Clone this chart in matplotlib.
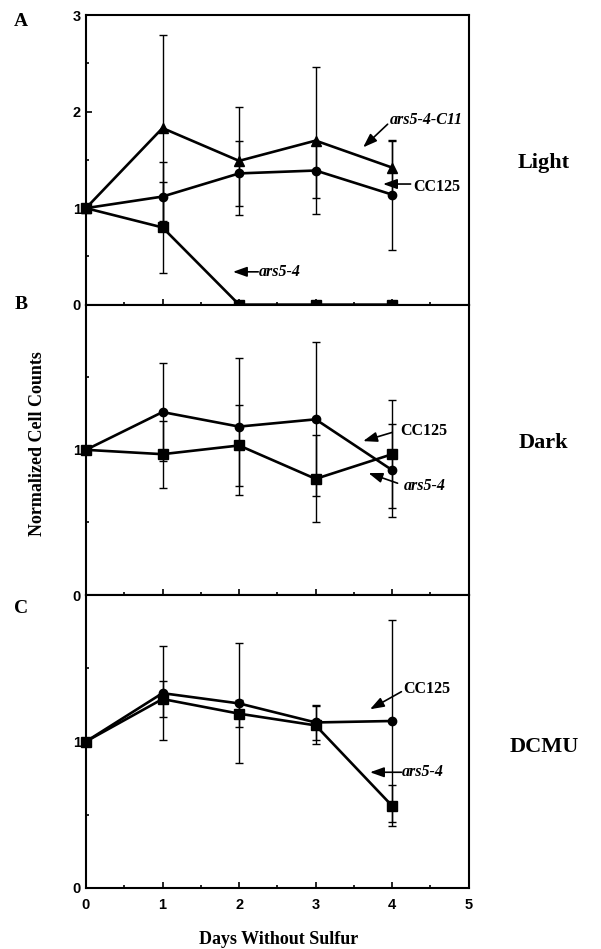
import matplotlib
matplotlib.use("Agg")
import matplotlib.pyplot as plt
from matplotlib.ticker import MultipleLocator

days = [0, 1, 2, 3, 4]

# Panel A - Light
a_c11 = [1.0, 1.83, 1.49, 1.70, 1.42]
a_c11_err = [0, 0.96, 0.56, 0.76, 0.28]
a_cc125 = [1.0, 1.12, 1.36, 1.39, 1.14]
a_cc125_err = [0, 0.36, 0.34, 0.29, 0.57]
a_ars = [1.0, 0.80, 0.0, 0.0, 0.0]
a_ars_err = [0, 0.47, 0, 0, 0]

# Panel B - Dark
b_cc125 = [1.0, 1.26, 1.16, 1.21, 0.86]
b_cc125_err = [0, 0.34, 0.47, 0.53, 0.32]
b_ars = [1.0, 0.97, 1.03, 0.80, 0.97]
b_ars_err = [0, 0.23, 0.28, 0.30, 0.37]

# Panel C - DCMU
c_cc125 = [1.0, 1.33, 1.26, 1.13, 1.14]
c_cc125_err = [0, 0.32, 0.41, 0.12, 0.69]
c_ars = [1.0, 1.29, 1.19, 1.11, 0.56]
c_ars_err = [0, 0.12, 0.09, 0.13, 0.14]

serif = "Liberation Serif"
sans = "Liberation Sans"
arrow = dict(arrowstyle="-|>,head_length=0.7,head_width=0.25", color="black",
             lw=1.2, shrinkA=0, shrinkB=0, mutation_scale=12)

fig = plt.figure(figsize=(6.01, 9.49), dpi=100)
left, width = 0.143, 0.637
axA = fig.add_axes([left, 0.679, width, 0.305])
axB = fig.add_axes([left, 0.373, width, 0.306])
axC = fig.add_axes([left, 0.0643, width, 0.3087])


def series(ax, y, err, marker, ms):
    ax.errorbar(days, y, yerr=err, fmt="none", ecolor="black", elinewidth=1.0,
                capsize=3, capthick=1.0, clip_on=False, zorder=2)
    ax.plot(days, y, color="black", lw=1.9, marker=marker, ms=ms,
            mfc="black", mec="black", clip_on=False, zorder=3)


def style(ax, ymax, ylabels, xlabels=False):
    ax.set_xlim(0, 5)
    ax.set_ylim(0, ymax)
    ax.yaxis.set_minor_locator(MultipleLocator(0.5))
    ax.xaxis.set_minor_locator(MultipleLocator(0.5))
    ax.tick_params(which="both", direction="in", top=False, right=False, width=1.2)
    ax.tick_params(which="major", length=4)
    ax.tick_params(which="minor", length=2.5)
    ax.set_yticks(range(0, int(ymax) + 1))
    ax.set_yticklabels([str(v) if v in ylabels else "" for v in range(0, int(ymax) + 1)],
                       fontfamily=sans, fontweight="bold", fontsize=10.5)
    ax.set_xticks(range(6))
    if xlabels:
        ax.set_xticklabels([str(v) for v in range(6)], fontfamily=sans,
                           fontweight="bold", fontsize=10.5)
        ax.tick_params(axis="x", pad=7)
    else:
        ax.set_xticklabels([])
    for s in ax.spines.values():
        s.set_linewidth(1.5)


def label(ax, text, x, y, italic):
    ax.text(x, y, text, ha="left", va="center", fontfamily=serif, fontweight="bold",
            fontstyle="italic" if italic else "normal",
            fontsize=11.5 if italic else 11.5)


# Panel A
series(axA, a_c11, a_c11_err, "^", 6.5)
series(axA, a_cc125, a_cc125_err, "o", 6)
series(axA, a_ars, a_ars_err, "s", 6.5)
style(axA, 3, [0, 1, 2, 3])
axA.annotate("", xy=(3.62, 1.63), xytext=(3.94, 1.87), arrowprops=arrow)
label(axA, "ars5-4-C11", 3.97, 1.91, True)
axA.annotate("", xy=(3.88, 1.25), xytext=(4.24, 1.25), arrowprops=arrow)
label(axA, "CC125", 4.27, 1.22, False)
axA.annotate("", xy=(1.92, 0.34), xytext=(2.25, 0.34), arrowprops=arrow)
label(axA, "ars5-4", 2.26, 0.34, True)

# Panel B
series(axB, b_cc125, b_cc125_err, "o", 6)
series(axB, b_ars, b_ars_err, "s", 6.5)
style(axB, 2, [0, 1])
axB.annotate("", xy=(3.62, 1.06), xytext=(4.0, 1.12), arrowprops=arrow)
label(axB, "CC125", 4.10, 1.13, False)
axB.annotate("", xy=(3.69, 0.84), xytext=(4.07, 0.77), arrowprops=arrow)
label(axB, "ars5-4", 4.15, 0.75, True)

# Panel C
series(axC, c_cc125, c_cc125_err, "o", 6)
series(axC, c_ars, c_ars_err, "s", 6.5)
style(axC, 2, [0, 1], xlabels=True)
axC.annotate("", xy=(3.71, 1.22), xytext=(4.12, 1.34), arrowprops=arrow)
label(axC, "CC125", 4.15, 1.36, False)
axC.annotate("", xy=(3.71, 0.79), xytext=(4.12, 0.79), arrowprops=arrow)
label(axC, "ars5-4", 4.12, 0.79, True)

# panel letters and side labels
for lab, y in [("A", 0.977), ("B", 0.679), ("C", 0.359)]:
    fig.text(0.035, y, lab, ha="center", va="center", fontfamily=serif,
             fontweight="bold", fontsize=14)
for lab, y in [("Light", 0.828), ("Dark", 0.533), ("DCMU", 0.213)]:
    fig.text(0.905, y, lab, ha="center", va="center", fontfamily=serif,
             fontweight="bold", fontsize=16)

fig.text(0.063, 0.533, "Normalized Cell Counts", rotation=90, ha="center",
         va="center", fontfamily=serif, fontweight="bold", fontsize=13)
fig.text(0.463, 0.01, "Days Without Sulfur", ha="center", va="center",
         fontfamily=serif, fontweight="bold", fontsize=13)

fig.savefig("out.png", dpi=100)
